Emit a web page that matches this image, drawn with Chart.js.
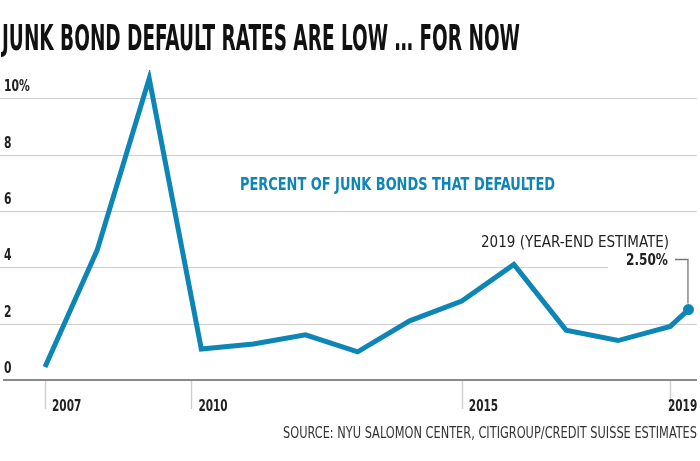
<!DOCTYPE html>
<html><head><meta charset="utf-8">
<script src="https://cdn.jsdelivr.net/npm/chart.js@4"></script>
<style>html,body{margin:0;padding:0;background:#fff}#w{width:700px;height:461px}</style>
</head><body><div id="w"><canvas id="c"></canvas></div>
<script>
const years=[2007,2008,2009,2010,2011,2012,2013,2014,2015,2016,2017,2018,2019,2019.35];
const rates=[0.46,4.6,10.7,1.1,1.28,1.6,1.0,2.1,2.8,4.1,1.77,1.4,1.9,2.5];
const yTicks=[0,2,4,6,8,10];
const xTickPos=[2007,2009.81,2015,2019];
const xTickLabels=['2007','2010','2015','2019'];
const F='"DejaVu Sans Condensed",sans-serif';
const BLUE='#0d86b5';
function fit(c,t,x,y,w,align){const m=c.measureText(t).width;const s=w/m;c.save();c.textAlign='left';c.translate(align==='right'?x-w:x,y);c.scale(s,1);c.fillText(t,0,0);c.restore();}
const deco={id:'deco',
beforeDatasetsDraw(ch){const c=ch.ctx,x=ch.scales.x,y=ch.scales.y;c.save();
 c.strokeStyle='#cfcfcf';c.lineWidth=1.2;
 yTicks.forEach(v=>{if(v===0)return;const py=Math.round(y.getPixelForValue(v))+.5;c.beginPath();c.moveTo(0,py);c.lineTo(v===4?608:697,py);c.stroke();});
 c.strokeStyle='#d0d0d0';c.lineWidth=1.5;
 xTickPos.forEach(v=>{const px=Math.round(x.getPixelForValue(v))+.5;c.beginPath();c.moveTo(px,y.getPixelForValue(0));c.lineTo(px,409);c.stroke();});
 c.strokeStyle='#8a8a8a';c.lineWidth=2;const b=y.getPixelForValue(0);c.beginPath();c.moveTo(3,b);c.lineTo(697,b);c.stroke();
 c.fillStyle='#222';c.font='bold 15px '+F;c.textBaseline='alphabetic';
 yTicks.forEach(v=>{const t=v===10?'10%':String(v);fit(c,t,4,y.getPixelForValue(v)-7,c.measureText(t).width*0.8,'left');});
 c.font='bold 15px '+F;
 xTickPos.forEach((v,i)=>{const px=x.getPixelForValue(v);const w=c.measureText(xTickLabels[i]).width*0.78;if(i===3)fit(c,xTickLabels[i],px+27,411,w,'right');else fit(c,xTickLabels[i],px+7,411,w,'left');});
 c.font='bold 35px '+F;c.fillStyle='#111';fit(c,'JUNK BOND DEFAULT RATES ARE LOW … FOR NOW',2,50,518,'left');
 c.fillStyle=BLUE;c.font='bold 17px '+F;fit(c,'PERCENT OF JUNK BONDS THAT DEFAULTED',240,190,315,'left');
 c.fillStyle='#222';c.font='16px '+F;fit(c,'2019 (YEAR-END ESTIMATE)',669,247,188,'right');
 c.font='bold 16px '+F;fit(c,'2.50%',668,265,42,'right');
 c.font='15px '+F;c.fillStyle='#333';fit(c,'SOURCE: NYU SALOMON CENTER, CITIGROUP/CREDIT SUISSE ESTIMATES',697,438,414,'right');
 const ex=x.getPixelForValue(years[13]),ey=y.getPixelForValue(rates[13]);
 c.strokeStyle='#777';c.lineWidth=1.3;c.beginPath();c.moveTo(675,259.5);c.lineTo(ex-0.5,259.5);c.lineTo(ex-0.5,ey-6);c.stroke();
 c.restore();}};
new Chart(document.getElementById('c'),{type:'line',
data:{datasets:[{data:years.map((v,i)=>({x:v,y:rates[i]})),borderColor:BLUE,borderWidth:5,borderJoinStyle:'miter',tension:0,
 pointRadius:years.map((v,i)=>i===13?5.5:0),pointBackgroundColor:BLUE,pointBorderWidth:0}]},
plugins:[deco],
options:{responsive:true,maintainAspectRatio:false,animation:false,events:[],
 layout:{padding:{left:0,right:3,top:70,bottom:81}},
 plugins:{legend:{display:false},tooltip:{enabled:false}},
 scales:{x:{type:'linear',display:false,min:2006.242,max:2019.466},y:{display:false,min:0,max:11}}}});
</script></body></html>
